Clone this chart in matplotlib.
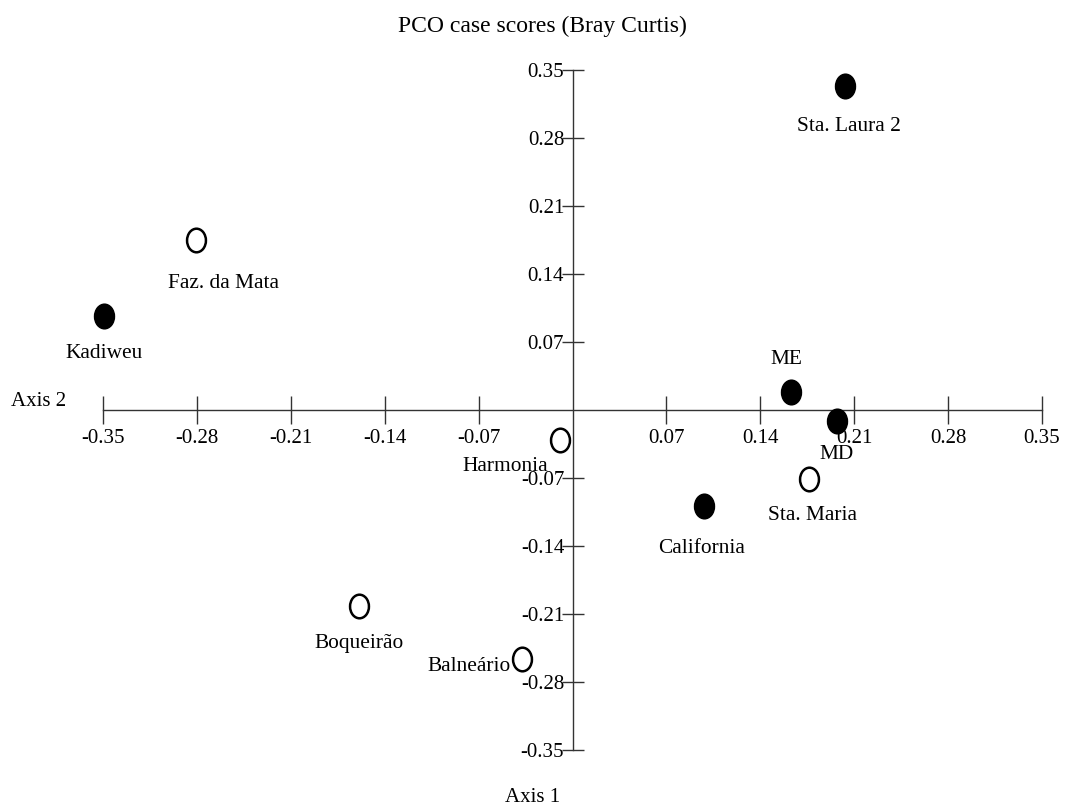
import matplotlib.pyplot as plt
from matplotlib.path import Path
from matplotlib.transforms import Affine2D

plt.rcParams['font.family'] = ['Liberation Serif', 'DejaVu Serif']

# case scores
sites = ['Sta. Laura 2', 'Faz. da Mata', 'Kadiweu', 'ME', 'MD',
         'Harmonia', 'Sta. Maria', 'California', 'Boqueirão', 'Balneário']
axis2 = [0.203, -0.281, -0.349, 0.163, 0.197, -0.009, 0.176, 0.098, -0.159, -0.038]
axis1 = [0.334, 0.175, 0.097, 0.019, -0.011, -0.031, -0.071, -0.099, -0.202, -0.256]
filled = [True, False, True, True, True, False, False, True, False, False]
ticks = [-0.35, -0.28, -0.21, -0.14, -0.07, 0.07, 0.14, 0.21, 0.28, 0.35]
tick_labels = ['-0.35', '-0.28', '-0.21', '-0.14', '-0.07', '0.07', '0.14', '0.21', '0.28', '0.35']

# label offsets in pixels (dx, dy)
offsets = [(4, -41), (28, -43), (0, -38), (-5, 32), (0, -34),
           (-55, -26), (4, -37), (-2, -42), (0, -37), (-52, -8)]

fs = 15

fig = plt.figure(figsize=(10.65, 8.08), dpi=100)
ax = fig.add_axes([103 / 1065, 58 / 808, 939 / 1065, 680 / 808])
ax.set_xlim(-0.35, 0.35)
ax.set_ylim(-0.35, 0.35)

ax.spines['left'].set_position('zero')
ax.spines['bottom'].set_position('zero')
ax.spines['right'].set_visible(False)
ax.spines['top'].set_visible(False)
for s in ['left', 'bottom']:
    ax.spines[s].set_color('#333333')
    ax.spines[s].set_linewidth(1.0)

ax.set_xticks(ticks)
ax.set_xticklabels(tick_labels)
ax.set_yticks(ticks)
ax.set_yticklabels(tick_labels)
ax.tick_params(axis='x', direction='inout', length=20, width=1, color='#333333',
               labelsize=fs, pad=4)
ax.tick_params(axis='y', direction='inout', length=16, width=1, color='#333333',
               labelsize=fs, pad=-2)

ellipse = Path.unit_circle().transformed(Affine2D().scale(0.8, 1.0))

for x, y, f, name, (dx, dy) in zip(axis2, axis1, filled, sites, offsets):
    ax.plot(x, y, marker=ellipse, markersize=17, linestyle='none',
            markerfacecolor='black' if f else 'white', markeredgecolor='black',
            markeredgewidth=1.8, clip_on=False, zorder=3)
    ax.annotate(name, (x, y), xytext=(dx * 0.72, dy * 0.72), textcoords='offset points',
                ha='center', va='center', fontsize=15.4)

fig.text(542 / 1065, 1 - 26 / 808, 'PCO case scores (Bray Curtis)', ha='center', va='center', fontsize=17)
fig.text(39 / 1065, 1 - 402 / 808, 'Axis 2', ha='center', va='center', fontsize=fs)
fig.text(533 / 1065, 1 - 797 / 808, 'Axis 1', ha='center', va='center', fontsize=fs)

fig.savefig('out.png', dpi=100)
